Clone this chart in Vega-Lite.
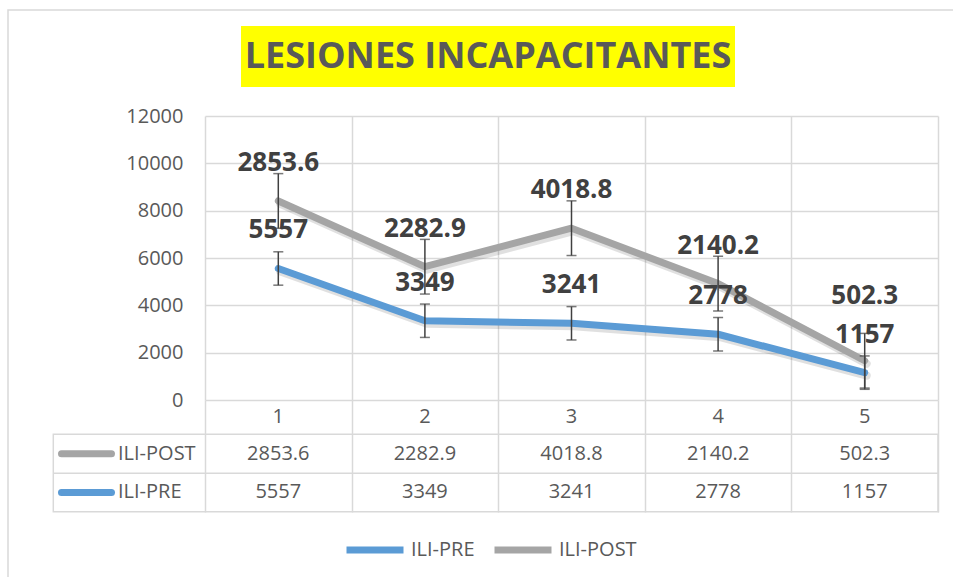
{
  "$schema": "https://vega.github.io/schema/vega-lite/v6.json",
  "width": 733,
  "height": 284,
  "autosize": {"type": "none"},
  "padding": {"left": 205, "top": 116, "right": 15, "bottom": 177},
  "background": "white",
  "config": {"font": "Open Sans", "view": {"stroke": null}},
  "data": {"values": [
    {"x": 1, "serie": "ILI-PRE", "orden": 1, "valor": 5557, "err": 705},
    {"x": 2, "serie": "ILI-PRE", "orden": 1, "valor": 3349, "err": 705},
    {"x": 3, "serie": "ILI-PRE", "orden": 1, "valor": 3241, "err": 705},
    {"x": 4, "serie": "ILI-PRE", "orden": 1, "valor": 2778, "err": 705},
    {"x": 5, "serie": "ILI-PRE", "orden": 1, "valor": 1157, "err": 705},
    {"x": 1, "serie": "ILI-POST", "orden": 2, "valor": 2853.6, "err": 1155},
    {"x": 2, "serie": "ILI-POST", "orden": 2, "valor": 2282.9, "err": 1155},
    {"x": 3, "serie": "ILI-POST", "orden": 2, "valor": 4018.8, "err": 1155},
    {"x": 4, "serie": "ILI-POST", "orden": 2, "valor": 2140.2, "err": 1155},
    {"x": 5, "serie": "ILI-POST", "orden": 2, "valor": 502.3, "err": 1155}
  ]},
  "transform": [
    {"stack": "valor", "groupby": ["x"], "sort": [{"field": "orden"}], "as": ["y0", "y1"]}
  ],
  "layer": [
    {
      "data": {"values": [{}]},
      "mark": {"type": "rect", "fill": null, "stroke": "#d9d9d9", "strokeWidth": 1.5},
      "encoding": {
        "x": {"datum": -0.8438, "type": "quantitative"},
        "x2": {"datum": 5.7},
        "y": {"datum": 16478, "type": "quantitative"},
        "y2": {"datum": -8000}
      }
    },
    {
      "data": {"values": [{}]},
      "mark": {"type": "rect", "fill": "#FFFF00"},
      "encoding": {
        "x": {"datum": 0.7456, "type": "quantitative"},
        "x2": {"datum": 4.1153},
        "y": {"datum": 15802, "type": "quantitative"},
        "y2": {"datum": 13224}
      }
    },
    {
      "data": {"values": [{"titulo": "LESIONES INCAPACITANTES"}]},
      "mark": {"type": "text", "fontSize": 36, "fontWeight": "bold", "color": "#595959", "align": "center", "baseline": "middle"},
      "encoding": {
        "x": {"datum": 2.4304, "type": "quantitative"},
        "y": {"datum": 14492, "type": "quantitative"},
        "text": {"field": "titulo"}
      }
    },
    {
      "data": {"values": [{}]},
      "mark": {"type": "rect", "fill": null, "stroke": "#d9d9d9", "strokeWidth": 1.5},
      "encoding": {
        "x": {"datum": -0.5348, "type": "quantitative"},
        "x2": {"datum": 5.5},
        "y": {"datum": -1449, "type": "quantitative"},
        "y2": {"datum": -4719}
      }
    },
    {
      "data": {"values": [{}]},
      "mark": {"type": "rule", "color": "#d9d9d9", "strokeWidth": 1.5},
      "encoding": {
        "x": {"datum": -0.5348, "type": "quantitative"},
        "x2": {"datum": 5.5},
        "y": {"datum": -3097, "type": "quantitative"}
      }
    },
    {
      "mark": {"type": "line", "strokeWidth": 8, "strokeCap": "round", "strokeJoin": "round", "color": "#000000", "opacity": 0.12, "xOffset": 2, "yOffset": 3},
      "encoding": {
        "x": {"field": "x", "type": "quantitative"},
        "y": {"field": "y1", "type": "quantitative"},
        "detail": {"field": "serie"}
      }
    },
    {
      "mark": {"type": "line", "strokeWidth": 7, "strokeCap": "round", "strokeJoin": "round"},
      "encoding": {
        "x": {
          "field": "x", "type": "quantitative",
          "scale": {"domain": [0.5, 5.5], "nice": false, "zero": false},
          "axis": {"title": null, "values": [0.5, 1.5, 2.5, 3.5, 4.5, 5.5], "labels": false, "domain": false,
                   "ticks": true, "tickSize": 112, "tickColor": "#d9d9d9", "tickWidth": 1.5,
                   "grid": true, "gridColor": "#d9d9d9", "gridWidth": 1.5}
        },
        "y": {
          "field": "y1", "type": "quantitative",
          "scale": {"domain": [0, 12000], "nice": false, "zero": false},
          "axis": {"title": null, "values": [0, 2000, 4000, 6000, 8000, 10000, 12000], "format": "d", "domain": false, "ticks": false,
                   "grid": true, "gridColor": "#d9d9d9", "gridWidth": 1.5,
                   "labelFontSize": 20, "labelColor": "#595959", "labelPadding": 22}
        },
        "color": {
          "field": "serie", "type": "nominal",
          "scale": {"domain": ["ILI-PRE", "ILI-POST"], "range": ["#5B9BD5", "#A5A5A5"]},
          "legend": {"orient": "none", "legendX": 138, "legendY": 402, "direction": "horizontal", "title": null,
                     "symbolType": "stroke", "symbolSize": 3249, "symbolStrokeWidth": 7,
                     "labelFontSize": 20, "labelColor": "#595959", "labelOffset": 4, "columnPadding": 5, "padding": 0}
        },
        "detail": {"field": "serie"}
      }
    },
    {
      "transform": [{"filter": "!(datum.x == 5 && datum.serie == 'ILI-POST')"}],
      "mark": {"type": "text", "fontSize": 26, "fontWeight": "bold", "color": "#404040", "dy": -38, "baseline": "middle"},
      "encoding": {
        "x": {"field": "x", "type": "quantitative"},
        "y": {"field": "y1", "type": "quantitative"},
        "text": {"field": "valor", "type": "nominal"}
      }
    },
    {
      "transform": [{"filter": "datum.x == 5 && datum.serie == 'ILI-POST'"}],
      "mark": {"type": "text", "fontSize": 26, "fontWeight": "bold", "color": "#404040", "dy": -65, "baseline": "middle"},
      "encoding": {
        "x": {"field": "x", "type": "quantitative"},
        "y": {"field": "y1", "type": "quantitative"},
        "text": {"field": "valor", "type": "nominal"}
      }
    },
    {
      "mark": {"type": "errorbar", "ticks": {"size": 10, "thickness": 1.5}, "thickness": 1.5, "color": "#404040"},
      "encoding": {
        "x": {"field": "x", "type": "quantitative"},
        "y": {"field": "y1", "type": "quantitative"},
        "yError": {"field": "err"}
      }
    },
    {
      "transform": [{"filter": "datum.serie == 'ILI-PRE'"}],
      "mark": {"type": "text", "fontSize": 20, "color": "#595959", "baseline": "middle"},
      "encoding": {
        "x": {"field": "x", "type": "quantitative"},
        "y": {"datum": -718, "type": "quantitative"},
        "text": {"field": "x", "type": "nominal"}
      }
    },
    {
      "transform": [{"filter": "datum.serie == 'ILI-POST'"}],
      "mark": {"type": "text", "fontSize": 20, "color": "#595959", "baseline": "middle"},
      "encoding": {
        "x": {"field": "x", "type": "quantitative"},
        "y": {"datum": -2273, "type": "quantitative"},
        "text": {"field": "valor", "type": "nominal"}
      }
    },
    {
      "transform": [{"filter": "datum.serie == 'ILI-PRE'"}],
      "mark": {"type": "text", "fontSize": 20, "color": "#595959", "baseline": "middle"},
      "encoding": {
        "x": {"field": "x", "type": "quantitative"},
        "y": {"datum": -3908, "type": "quantitative"},
        "text": {"field": "valor", "type": "nominal"}
      }
    },
    {
      "transform": [{"filter": "datum.x == 1 && datum.serie == 'ILI-POST'"}],
      "mark": {"type": "rule", "strokeWidth": 7, "strokeCap": "round"},
      "encoding": {
        "x": {"datum": -0.4789, "type": "quantitative"},
        "x2": {"datum": -0.1378},
        "y": {"datum": -2273, "type": "quantitative"},
        "color": {"field": "serie", "type": "nominal"}
      }
    },
    {
      "transform": [{"filter": "datum.x == 1 && datum.serie == 'ILI-PRE'"}],
      "mark": {"type": "rule", "strokeWidth": 7, "strokeCap": "round"},
      "encoding": {
        "x": {"datum": -0.4789, "type": "quantitative"},
        "x2": {"datum": -0.1378},
        "y": {"datum": -3908, "type": "quantitative"},
        "color": {"field": "serie", "type": "nominal"}
      }
    },
    {
      "transform": [{"filter": "datum.x == 1 && datum.serie == 'ILI-POST'"}],
      "mark": {"type": "text", "fontSize": 20, "color": "#595959", "align": "left", "baseline": "middle"},
      "encoding": {
        "x": {"datum": -0.0935, "type": "quantitative"},
        "y": {"datum": -2273, "type": "quantitative"},
        "text": {"field": "serie", "type": "nominal"}
      }
    },
    {
      "transform": [{"filter": "datum.x == 1 && datum.serie == 'ILI-PRE'"}],
      "mark": {"type": "text", "fontSize": 20, "color": "#595959", "align": "left", "baseline": "middle"},
      "encoding": {
        "x": {"datum": -0.0935, "type": "quantitative"},
        "y": {"datum": -3908, "type": "quantitative"},
        "text": {"field": "serie", "type": "nominal"}
      }
    }
  ]
}
